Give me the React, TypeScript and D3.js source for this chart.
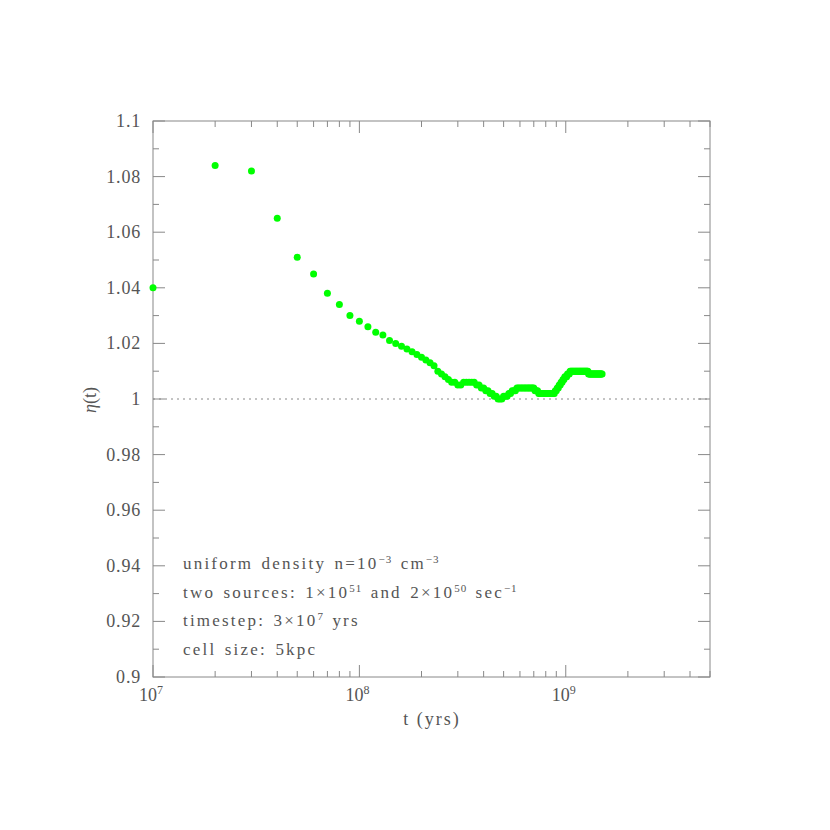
import React, { useRef, useEffect } from "react";
import * as d3 from "d3";

// time in units of 1e7 yrs, one point per timestep
const eta = [
  1.040, 1.084, 1.082, 1.065, 1.051, 1.045, 1.038, 1.034, 1.030, 1.028,
  1.026, 1.024, 1.023, 1.021, 1.020, 1.019, 1.018, 1.017, 1.016, 1.015,
  1.014, 1.013, 1.012, 1.010, 1.009, 1.008, 1.007, 1.006, 1.006, 1.005,
  1.005, 1.006, 1.006, 1.006, 1.006, 1.006, 1.005, 1.005, 1.004, 1.004,
  1.003, 1.003, 1.002, 1.002, 1.001, 1.001, 1.000, 1.000, 1.000, 1.001,
  1.001, 1.001, 1.002, 1.002, 1.003, 1.003, 1.003, 1.004, 1.004, 1.004,
  1.004, 1.004, 1.004, 1.004, 1.004, 1.004, 1.004, 1.004, 1.004, 1.004,
  1.003, 1.003, 1.003, 1.002, 1.002, 1.002, 1.002, 1.002, 1.002, 1.002,
  1.002, 1.002, 1.002, 1.002, 1.002, 1.002, 1.002, 1.002, 1.003, 1.003,
  1.004, 1.004, 1.005, 1.005, 1.006, 1.006, 1.007, 1.007, 1.008, 1.008,
  1.008, 1.009, 1.009, 1.009, 1.010, 1.010, 1.010, 1.010, 1.010, 1.010,
  1.010, 1.010, 1.010, 1.010, 1.010, 1.010, 1.010, 1.010, 1.010, 1.010,
  1.010, 1.010, 1.010, 1.010, 1.010, 1.010, 1.010, 1.010, 1.009, 1.009,
  1.009, 1.009, 1.009, 1.009, 1.009, 1.009, 1.009, 1.009, 1.009, 1.009,
  1.009, 1.009, 1.009, 1.009, 1.009, 1.009, 1.009, 1.009, 1.009, 1.009,
];
const times = eta.map((_, i) => (i + 1) * 1e7);

const yTicks = [0.9, 0.92, 0.94, 0.96, 0.98, 1, 1.02, 1.04, 1.06, 1.08, 1.1];
const xMajor = [1e7, 1e8, 1e9];
const xLabels = ["7", "8", "9"];

const App = () => {
  const svgRef = useRef<SVGSVGElement>(null);

  useEffect(() => {
    const svg = d3.select(svgRef.current);
    svg.selectAll("*").remove();

    const left = 153, right = 710, top = 121, bottom = 677;
    const axisColor = "#888";
    const textColor = "#555";
    const font = "'Liberation Serif', serif";

    const x = d3.scaleLog().domain([1e7, 5e9]).range([left, right]);
    const y = d3.scaleLinear().domain([0.9, 1.1]).range([bottom, top]);

    // reference line at eta = 1
    svg.append("line")
      .attr("x1", left).attr("x2", right)
      .attr("y1", y(1)).attr("y2", y(1))
      .attr("stroke", "#888").attr("stroke-dasharray", "2,4");

    // frame
    svg.append("rect")
      .attr("x", left).attr("y", top)
      .attr("width", right - left).attr("height", bottom - top)
      .attr("fill", "none").attr("stroke", axisColor);

    // x ticks (log, bottom + top)
    const xTicks: number[] = [];
    for (let d = 1e7; d < 5e9; d *= 10) {
      for (let k = 1; k < 10; k++) if (d * k <= 5e9) xTicks.push(d * k);
    }
    xTicks.forEach((t) => {
      const len = xMajor.includes(t) ? 12 : 6;
      const px = x(t);
      svg.append("line").attr("x1", px).attr("x2", px)
        .attr("y1", bottom).attr("y2", bottom - len).attr("stroke", axisColor);
      svg.append("line").attr("x1", px).attr("x2", px)
        .attr("y1", top).attr("y2", top + len).attr("stroke", axisColor);
    });

    // y ticks (left + right)
    d3.range(0, 21).forEach((i) => {
      const v = 0.9 + i * 0.01;
      const len = i % 2 === 0 ? 12 : 6;
      const py = y(v);
      svg.append("line").attr("x1", left).attr("x2", left + len)
        .attr("y1", py).attr("y2", py).attr("stroke", axisColor);
      svg.append("line").attr("x1", right).attr("x2", right - len)
        .attr("y1", py).attr("y2", py).attr("stroke", axisColor);
    });

    // y tick labels
    svg.append("g").selectAll("text").data(yTicks).enter().append("text")
      .attr("x", 141).attr("y", (d) => y(d) + 6)
      .attr("text-anchor", "end")
      .attr("font-family", font).attr("font-size", 18).attr("fill", textColor)
      .attr("letter-spacing", 0.8)
      .text((d) => String(+d.toFixed(2)));

    // x tick labels
    xMajor.forEach((t, i) => {
      const tx = svg.append("text")
        .attr("x", x(t) - 2).attr("y", 701)
        .attr("text-anchor", "middle")
        .attr("font-family", font).attr("font-size", 18).attr("fill", textColor);
      tx.append("tspan").text("10");
      tx.append("tspan").attr("dy", -7).attr("font-size", 12).text(xLabels[i]);
    });

    // axis titles
    svg.append("text")
      .attr("x", 432).attr("y", 725).attr("text-anchor", "middle")
      .attr("font-family", font).attr("font-size", 18).attr("fill", textColor)
      .attr("letter-spacing", 2)
      .text("t (yrs)");
    const yl = svg.append("text")
      .attr("transform", `translate(96,400) rotate(-90)`)
      .attr("text-anchor", "middle")
      .attr("font-family", font).attr("font-size", 18).attr("fill", textColor);
    yl.append("tspan").attr("font-style", "italic").text("η");
    yl.append("tspan").text("(t)");

    // annotation
    const lines: [string, string][][] = [
      [["uniform density n=10", ""], ["−3", "sup"], [" cm", ""], ["−3", "sup"]],
      [["two sources: 1×10", ""], ["51", "sup"], [" and 2×10", ""], ["50", "sup"], [" sec", ""], ["−1", "sup"]],
      [["timestep: 3×10", ""], ["7", "sup"], [" yrs", ""]],
      [["cell size: 5kpc", ""]],
    ];
    lines.forEach((parts, i) => {
      const t = svg.append("text")
        .attr("x", 183).attr("y", 569 + i * 28.5)
        .attr("font-family", font).attr("font-size", 17).attr("fill", textColor)
        .attr("letter-spacing", 2.2).attr("word-spacing", 2);
      let up = false;
      parts.forEach(([s, kind]) => {
        const sp = t.append("tspan").text(s);
        if (kind === "sup" && !up) { sp.attr("dy", -6).attr("font-size", 11).attr("letter-spacing", 1); up = true; }
        else if (kind === "sup") { sp.attr("font-size", 11).attr("letter-spacing", 1); }
        else if (up) { sp.attr("dy", 6); up = false; }
      });
    });

    // data points
    svg.append("g").selectAll("circle").data(times).enter().append("circle")
      .attr("cx", (d) => x(d))
      .attr("cy", (_, i) => y(eta[i]))
      .attr("r", 3.5)
      .attr("fill", "#00ff00");
  }, []);

  return (
    <svg
      ref={svgRef}
      width={830}
      height={830}
      style={{ position: "absolute", left: 0, top: 0, background: "#fff" }}
    ></svg>
  );
};

export default App;
